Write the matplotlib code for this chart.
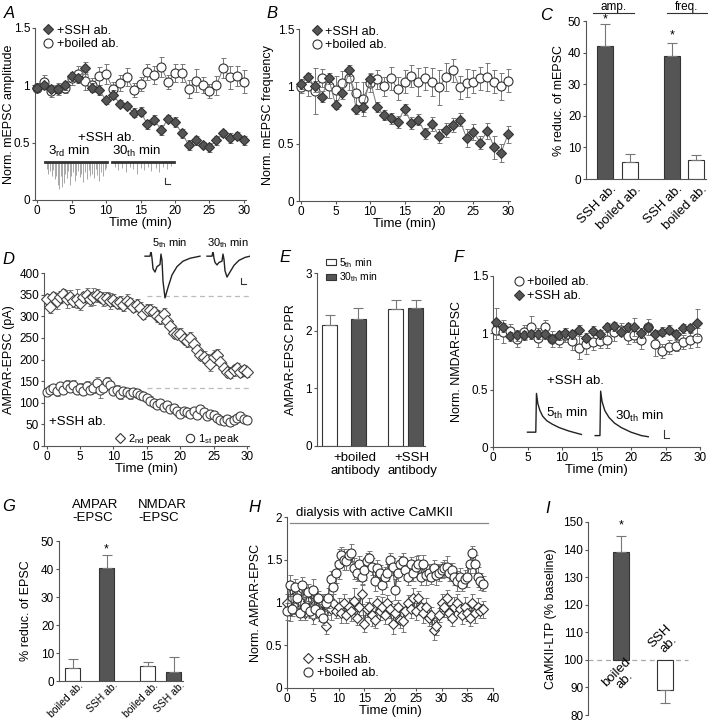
import numpy as np
import matplotlib
matplotlib.use('Agg')
from matplotlib import pyplot as plt
from matplotlib.lines import Line2D
import matplotlib.transforms as mtransforms

plt.rcParams['font.family'] = ['Liberation Sans', 'DejaVu Sans']
plt.rcParams['mathtext.fontset'] = 'custom'
plt.rcParams['mathtext.rm'] = 'Liberation Sans'
plt.rcParams['mathtext.it'] = 'Liberation Sans:italic'
plt.rcParams['font.size'] = 9.5

W, H = 720, 722
dark = '#555555'
edge = '#333333'
ecol = '#777777'
spine_col = '#555555'

# ---- panel A: mEPSC amplitude
t_a = np.arange(31)
ssh_amp = [0.98, 1.00, 0.97, 0.97, 1.00, 1.08, 1.06, 1.15, 0.98, 0.96, 0.87, 0.92, 0.84, 0.82, 0.76, 0.77,
           0.66, 0.70, 0.61, 0.71, 0.68, 0.58, 0.48, 0.52, 0.48, 0.46, 0.52, 0.58, 0.54, 0.56, 0.52]
ssh_amp_err = [0.03, 0.03, 0.03, 0.03, 0.04, 0.04, 0.04, 0.05, 0.04, 0.04, 0.03, 0.04, 0.03, 0.03, 0.04, 0.04,
               0.04, 0.04, 0.04, 0.03, 0.04, 0.04, 0.04, 0.04, 0.03, 0.04, 0.04, 0.03, 0.04, 0.03, 0.04]
boiled_amp = [0.98, 1.03, 0.95, 0.97, 0.98, 1.06, 1.10, 1.04, 1.00, 1.08, 1.10, 0.97, 1.02, 1.07, 0.96, 1.01,
              1.12, 1.09, 1.16, 1.03, 1.11, 1.11, 0.97, 1.04, 1.00, 0.95, 1.00, 1.15, 1.07, 1.08, 1.03]
boiled_amp_err = [0.04, 0.06, 0.05, 0.05, 0.05, 0.06, 0.07, 0.08, 0.06, 0.08, 0.09, 0.06, 0.07, 0.08, 0.06, 0.06,
                  0.07, 0.08, 0.09, 0.06, 0.08, 0.08, 0.08, 0.10, 0.07, 0.06, 0.08, 0.09, 0.10, 0.09, 0.10]
# example mEPSC traces (position along trace 0-1, event depth)
mini3_pos = [0.02, 0.05, 0.07, 0.1, 0.12, 0.15, 0.17, 0.2, 0.22, 0.25, 0.27, 0.3, 0.32, 0.35, 0.37, 0.4, 0.42,
             0.45, 0.47, 0.5, 0.53, 0.56, 0.58, 0.61, 0.64, 0.67, 0.7, 0.72, 0.75, 0.78, 0.81, 0.84, 0.87,
             0.9, 0.93, 0.96, 0.98]
mini3_amp = [0.06, 0.1, 0.08, 0.12, 0.07, 0.15, 0.12, 0.2, 0.23, 0.12, 0.22, 0.18, 0.1, 0.14, 0.08, 0.2, 0.12,
             0.09, 0.16, 0.11, 0.08, 0.13, 0.1, 0.17, 0.09, 0.15, 0.07, 0.12, 0.1, 0.14, 0.06, 0.11, 0.16,
             0.09, 0.12, 0.07, 0.05]
mini30_pos = [0.04, 0.1, 0.15, 0.22, 0.28, 0.33, 0.4, 0.46, 0.52, 0.58, 0.63, 0.7, 0.76, 0.82, 0.88, 0.94]
mini30_amp = [0.04, 0.07, 0.05, 0.09, 0.04, 0.06, 0.1, 0.05, 0.07, 0.04, 0.08, 0.05, 0.09, 0.04, 0.06, 0.03]

# ---- panel B: mEPSC frequency
ssh_freq = [1.02, 1.08, 1.00, 0.91, 1.07, 0.84, 0.94, 1.14, 0.80, 0.82, 1.06, 0.82, 0.75, 0.72, 0.69, 0.80,
            0.68, 0.71, 0.59, 0.67, 0.57, 0.62, 0.66, 0.71, 0.55, 0.60, 0.51, 0.61, 0.47, 0.42, 0.58]
ssh_freq_err = [0.04, 0.04, 0.05, 0.05, 0.05, 0.04, 0.05, 0.05, 0.04, 0.04, 0.06, 0.04, 0.04, 0.05, 0.05, 0.05,
                0.05, 0.05, 0.05, 0.06, 0.06, 0.06, 0.06, 0.06, 0.08, 0.07, 0.06, 0.07, 0.10, 0.08, 0.07]
boiled_freq = [0.99, 1.00, 0.96, 1.07, 1.00, 0.97, 1.03, 1.07, 0.94, 0.89, 1.03, 1.06, 1.00, 1.07, 0.98, 1.04,
               1.09, 1.04, 1.07, 1.04, 0.99, 1.08, 1.14, 0.99, 1.03, 1.04, 1.07, 1.08, 1.04, 1.00, 1.05]
boiled_freq_err = [0.05, 0.08, 0.20, 0.08, 0.10, 0.12, 0.10, 0.10, 0.10, 0.15, 0.08, 0.08, 0.08, 0.10, 0.10, 0.10,
                   0.10, 0.12, 0.10, 0.12, 0.15, 0.12, 0.10, 0.10, 0.12, 0.10, 0.10, 0.12, 0.10, 0.12, 0.10]

# ---- panel C
c_labels = ['SSH ab.', 'boiled ab.', 'SSH ab.', 'boiled ab.']
c_vals = [42, 5.5, 39, 6]
c_err = [7, 2.3, 4, 1.5]

# ---- panel D: AMPAR-EPSC paired pulse
t_d = np.arange(61) * 0.5
peak2 = [340, 322, 345, 335, 345, 352, 340, 345, 335, 340, 330, 345, 348, 340, 345, 348, 345, 340, 342, 335,
         338, 330, 332, 325, 335, 330, 322, 325, 318, 305, 315, 315, 310, 300, 295, 305, 290, 278, 262, 258,
         260, 248, 242, 250, 235, 222, 210, 205, 200, 190, 205, 210, 195, 180, 170, 168, 175, 180, 170, 175, 170]
peak2_err = [12, 15, 10, 18, 14, 12, 20, 16, 14, 22, 15, 12, 18, 16, 20, 14, 12, 16, 15, 18,
             14, 12, 15, 14, 16, 13, 12, 14, 15, 12, 14, 13, 12, 14, 12, 13, 12, 10, 12, 11,
             12, 10, 12, 14, 11, 12, 10, 14, 12, 16, 18, 15, 14, 12, 10, 11, 12, 13, 10, 12, 11]
peak1 = [125, 130, 135, 128, 138, 130, 142, 135, 140, 130, 135, 128, 138, 130, 135, 145, 130, 135, 148, 140,
         128, 130, 120, 128, 125, 120, 125, 122, 118, 115, 110, 105, 100, 95, 100, 90, 95, 85, 88, 80,
         75, 82, 78, 75, 80, 72, 85, 78, 70, 75, 72, 65, 60, 58, 62, 55, 60, 65, 70, 62, 60]
peak1_err = [8, 10, 9, 12, 10, 9, 11, 10, 12, 9, 10, 11, 12, 10, 12, 14, 20, 11, 12, 10,
             9, 10, 12, 9, 10, 11, 9, 10, 9, 8, 9, 10, 9, 8, 9, 8, 9, 8, 9, 10,
             8, 9, 10, 9, 8, 9, 10, 9, 8, 9, 10, 8, 9, 8, 9, 8, 9, 10, 9, 8, 9]
base2, base1 = 347, 135
# example EPSC traces (inset pixels, normalized current)
epsc5_x = [2, 7, 8, 9, 10, 12, 14, 17, 18, 19, 20, 22, 25, 29, 34, 40, 47, 57]
epsc5_y = [0, 0, 0.12, -0.05, -0.3, -0.38, -0.25, -0.2, 0.05, -0.1, -0.6, -1.0, -0.75, -0.45, -0.25, -0.12, -0.05, 0]
epsc30_x = [64, 69, 70, 71, 72, 74, 76, 79, 80, 81, 82, 84, 87, 91, 96, 102, 107]
epsc30_y = [0, 0, 0.12, -0.05, -0.15, -0.21, -0.15, -0.12, 0.05, -0.08, -0.35, -0.5, -0.38, -0.22, -0.1, -0.03, 0]

# ---- panel E: PPR
e_groups = ['+boiled\nantibody', '+SSH\nantibody']
ppr_5 = [2.1, 2.38]
ppr_5_err = [0.17, 0.16]
ppr_30 = [2.2, 2.39]
ppr_30_err = [0.2, 0.15]

# ---- panel F: NMDAR-EPSC
t_f = np.arange(30) + 0.5
boiled_nmda = [1.03, 1.01, 1.02, 0.95, 1.01, 1.05, 0.96, 1.05, 0.95, 0.94, 0.98, 0.93, 0.87, 0.90, 0.92,
               0.93, 0.94, 1.01, 1.03, 0.97, 0.98, 0.94, 1.05, 0.90, 0.84, 0.88, 0.89, 0.92, 0.94, 0.96]
boiled_nmda_err = [0.08, 0.1, 0.06, 0.07, 0.06, 0.1, 0.08, 0.06, 0.07, 0.06, 0.06, 0.08, 0.1, 0.08, 0.07,
                   0.06, 0.07, 0.08, 0.06, 0.07, 0.06, 0.08, 0.07, 0.1, 0.06, 0.06, 0.05, 0.06, 0.07, 0.08]
ssh_nmda = [1.10, 1.05, 0.97, 0.98, 0.98, 0.99, 0.99, 0.99, 0.95, 0.98, 1.00, 0.99, 1.03, 0.96, 1.02,
            0.99, 1.05, 1.06, 1.01, 1.05, 1.05, 1.00, 1.05, 0.99, 1.01, 1.03, 0.99, 1.04, 1.04, 1.09]
ssh_nmda_err = [0.12, 0.04, 0.04, 0.05, 0.04, 0.04, 0.04, 0.04, 0.04, 0.04, 0.04, 0.04, 0.04, 0.04, 0.04,
                0.04, 0.04, 0.04, 0.04, 0.04, 0.08, 0.04, 0.04, 0.04, 0.04, 0.04, 0.04, 0.04, 0.04, 0.12]
nmda5_x = [5, 6.2, 6.3, 6.5, 6.8, 7.2, 7.8, 8.6, 9.6, 11, 12.8]
nmda5_y = [0.13, 0.13, 0.47, 0.38, 0.32, 0.27, 0.23, 0.2, 0.17, 0.14, 0.11]
nmda30_x = [14.8, 15.5, 15.6, 15.8, 16.2, 16.8, 17.6, 18.6, 20, 21.5, 22.5]
nmda30_y = [0.1, 0.1, 0.49, 0.4, 0.32, 0.26, 0.21, 0.17, 0.13, 0.1, 0.09]

# ---- panel G
g_labels = ['boiled ab.', 'SSH ab.', 'boiled ab.', 'SSH ab.']
g_vals = [4.5, 40.5, 5.3, 3.2]
g_err = [3.5, 4.5, 1.5, 5.3]

# ---- panel H: CaMKII dialysis
t_h = np.arange(77) * 0.5
boiled_h = [0.90, 1.20, 0.92, 1.18, 1.05, 0.88, 1.20, 0.95, 1.12, 0.90, 1.15, 0.92, 1.05, 0.88, 0.82, 1.00,
            1.05, 1.27, 1.18, 1.35, 1.45, 1.55, 1.50, 1.48, 1.55, 1.58, 1.40, 1.35, 1.45, 1.30, 1.38, 1.48,
            1.52, 1.42, 1.25, 1.40, 1.35, 1.20, 1.30, 1.35, 1.50, 1.42, 1.15, 1.35, 1.45, 1.48, 1.38, 1.30,
            1.45, 1.35, 1.42, 1.45, 1.30, 1.45, 1.32, 1.35, 1.30, 1.40, 1.32, 1.35, 1.38, 1.40, 1.42, 1.35,
            1.38, 1.30, 1.25, 1.30, 1.22, 1.28, 1.30, 1.45, 1.58, 1.45, 1.30, 1.25, 1.22]
boiled_h_err = [0.1, 0.12, 0.08, 0.1, 0.12, 0.09, 0.1, 0.11, 0.1, 0.08, 0.12, 0.1, 0.09, 0.1, 0.08, 0.1,
                0.12, 0.1, 0.15, 0.12, 0.18, 0.1, 0.12, 0.1, 0.08, 0.1, 0.12, 0.1, 0.09, 0.1, 0.12, 0.1,
                0.08, 0.1, 0.12, 0.1, 0.09, 0.1, 0.12, 0.1, 0.08, 0.1, 0.12, 0.1, 0.09, 0.1, 0.12, 0.1,
                0.08, 0.1, 0.12, 0.1, 0.09, 0.1, 0.12, 0.1, 0.08, 0.1, 0.12, 0.1, 0.09, 0.1, 0.12, 0.1,
                0.08, 0.1, 0.12, 0.1, 0.09, 0.1, 0.12, 0.1, 0.08, 0.1, 0.12, 0.1, 0.09]
ssh_h = [1.00, 0.90, 1.05, 0.95, 1.10, 0.92, 1.00, 0.88, 1.02, 0.95, 0.85, 1.08, 0.95, 0.90, 1.00, 0.72,
         0.95, 0.92, 1.00, 0.90, 0.95, 0.88, 1.00, 0.85, 0.95, 0.90, 1.02, 0.82, 0.95, 1.10, 0.75, 0.92,
         0.95, 0.85, 0.80, 1.00, 0.90, 0.95, 0.85, 1.00, 0.92, 0.75, 0.88, 0.95, 0.80, 0.78, 0.90, 1.00,
         0.92, 1.05, 0.90, 1.05, 0.95, 0.88, 0.95, 0.82, 0.85, 0.68, 0.72, 0.85, 1.00, 0.95, 1.05, 0.88,
         0.82, 0.95, 1.00, 0.92, 0.85, 0.95, 0.88, 0.82, 1.00, 0.88, 0.95, 0.90, 0.92]
ssh_h_err = [0.1, 0.12, 0.1, 0.08, 0.1, 0.12, 0.1, 0.09, 0.1, 0.12, 0.1, 0.08, 0.1, 0.12, 0.1, 0.09,
             0.1, 0.12, 0.1, 0.08, 0.1, 0.12, 0.1, 0.09, 0.1, 0.12, 0.15, 0.08, 0.1, 0.12, 0.1, 0.09,
             0.1, 0.12, 0.1, 0.08, 0.1, 0.12, 0.1, 0.09, 0.1, 0.12, 0.1, 0.08, 0.1, 0.12, 0.1, 0.09,
             0.1, 0.12, 0.1, 0.08, 0.1, 0.12, 0.1, 0.09, 0.1, 0.12, 0.1, 0.08, 0.1, 0.12, 0.1, 0.09,
             0.1, 0.12, 0.1, 0.08, 0.1, 0.12, 0.1, 0.09, 0.1, 0.12, 0.1, 0.08, 0.1]

# ---- panel I
i_vals = [139, 89]
i_err = [6, 4.5]


fig = plt.figure(figsize=(W / 100, H / 100), dpi=100)


def px_axes(x0, y0, x1, y1):
    return fig.add_axes([x0 / W, 1 - y1 / H, (x1 - x0) / W, (y1 - y0) / H])


def style(ax):
    for s in ['top', 'right']:
        ax.spines[s].set_visible(False)
    for s in ['left', 'bottom']:
        ax.spines[s].set_color(spine_col)
        ax.spines[s].set_linewidth(0.8)
    ax.tick_params(direction='out', length=2.5, width=0.8, color=spine_col, labelsize=8.5, pad=1)


def nolead(v, pos=None):
    return ('%g' % v)


def ylab(ax, s, xpix):
    # y label centred on a given figure pixel column
    ax.set_ylabel(s, fontsize=9, va='center')
    x0 = ax.get_position().x0 * W
    ax.yaxis.set_label_coords((xpix - x0) / (ax.get_position().width * W), 0.5)


def letter(x, y, s):
    fig.text(x / W, 1 - y / H, s, fontsize=12, style='italic', va='top', ha='left')


def series(ax, x, y, err, marker, face, ms=6, line=True, lcol='#777777', mec=edge, z=3):
    ax.errorbar(x, y, yerr=err, fmt='none', ecolor=ecol, elinewidth=0.7, capsize=1.8, capthick=0.7,
                zorder=z - 1, clip_on=False)
    ax.plot(x, y, linestyle='-' if line else 'none', color=lcol, lw=0.7, marker=marker, ms=ms,
            mfc=face, mec=mec, mew=0.8, zorder=z, clip_on=False)


def leg(ax, items, loc, anchor, fs=9, ncol=1):
    handles = [Line2D([], [], linestyle='none', marker=m, ms=ms, mfc=f, mec=edge, mew=0.8) for m, f, ms, _ in items]
    ax.legend(handles, [t for *_, t in items], loc=loc, bbox_to_anchor=anchor, frameon=False, fontsize=fs,
              handlelength=0.8, handletextpad=0.3, labelspacing=0.15, borderpad=0, borderaxespad=0,
              columnspacing=1.2, ncol=ncol)


def shift_xlabels(ax, dx, dy=0):
    off = mtransforms.ScaledTranslation(dx / 100, dy / 100, fig.dpi_scale_trans)
    for lab in ax.get_xticklabels():
        lab.set_transform(lab.get_transform() + off)


# ================= A
ax = px_axes(35, 28, 246, 200)
style(ax)
series(ax, t_a, boiled_amp, boiled_amp_err, 'o', 'white', ms=6.5, z=3)
series(ax, t_a, ssh_amp, ssh_amp_err, 'D', dark, ms=5.5, z=4)
ax.set_xlim(-0.3, 30.3)
ax.set_ylim(0, 1.5)
ax.set_xticks([0, 5, 10, 15, 20, 25, 30])
ax.set_yticks([0, 0.5, 1, 1.5])
ax.yaxis.set_major_formatter(nolead)
ax.set_xlabel('Time (min)', labelpad=0)
ylab(ax, 'Norm. mEPSC amplitude', 9)
leg(ax, [('D', dark, 5.5, '+SSH ab.'), ('o', 'white', 6.5, '+boiled ab.')], 'upper left', (0.04, 1.02))
ax.text(10.1, 0.54, '+SSH ab.', ha='center', va='center', fontsize=9.5)
ax.text(4.6, 0.42, r'3$_{\rm rd}$ min', ha='center', va='center', fontsize=9.5)
ax.text(14.5, 0.42, r'30$_{\rm th}$ min', ha='center', va='center', fontsize=9.5)
for x0, x1, pos, amp in [(1.2, 10.2, mini3_pos, mini3_amp), (10.9, 19.9, mini30_pos, mini30_amp)]:
    xs = [x0 + p * (x1 - x0) for p in pos]
    ax.vlines(xs, [0.33 - a for a in amp], 0.33, color='#999999', lw=0.6)
    ax.plot([x0, x1], [0.33, 0.33], color='#333333', lw=2)
ax.plot([18.6, 18.6, 19.3], [0.19, 0.14, 0.14], color='#333333', lw=0.8)

# ================= B
ax = px_axes(299, 29, 510, 201)
style(ax)
series(ax, t_a, boiled_freq, boiled_freq_err, 'o', 'white', ms=6.5, z=3)
series(ax, t_a, ssh_freq, ssh_freq_err, 'D', dark, ms=5.5, z=4)
ax.set_xlim(-0.3, 30.3)
ax.set_ylim(0, 1.5)
ax.set_xticks([0, 5, 10, 15, 20, 25, 30])
ax.set_yticks([0, 0.5, 1, 1.5])
ax.yaxis.set_major_formatter(nolead)
ax.set_xlabel('Time (min)', labelpad=0)
ylab(ax, 'Norm. mEPSC frequency', 268)
leg(ax, [('D', dark, 5.5, '+SSH ab.'), ('o', 'white', 6.5, '+boiled ab.')], 'upper left', (0.06, 1.02))

# ================= C
ax = px_axes(586, 21, 706, 179)
style(ax)
cx = [0.78, 1.78, 3.5, 4.5]
ax.bar(cx, c_vals, width=0.65, color=[dark, 'white', dark, 'white'], edgecolor=edge, linewidth=0.8)
ax.errorbar(cx, c_vals, yerr=[[0] * 4, c_err], fmt='none', ecolor=ecol, elinewidth=0.8, capsize=3.5, capthick=0.8)
ax.set_xlim(0, 4.9)
ax.set_ylim(0, 50)
ax.set_yticks([0, 10, 20, 30, 40, 50])
ax.set_xticks(cx)
ax.set_xticklabels(c_labels, rotation=45, ha='right', rotation_mode='anchor', fontsize=9.5)
ax.tick_params(axis='x', length=0, pad=3)
shift_xlabels(ax, 5)
ylab(ax, '% reduc. of mEPSC', 559)
ax.text(cx[0], 50.5, '*', ha='center', va='center', fontsize=9)
ax.text(cx[2], 45.5, '*', ha='center', va='center', fontsize=9)
tr = mtransforms.blended_transform_factory(ax.transData, ax.transAxes)
for x0, x1, s in [(0.29, 1.96, 'amp.'), (3.3, 4.94, 'freq.')]:
    ax.plot([x0, x1], [1.05, 1.05], color='#333333', lw=0.8, transform=tr, clip_on=False)
    ax.text((x0 + x1) / 2, 1.053, s, ha='center', va='bottom', transform=tr, fontsize=8.5)

# ================= D
ax = px_axes(44, 273, 249, 446)
style(ax)
ax.plot([15, 30.3], [base2, base2], color='#bbbbbb', lw=0.9, dashes=(4, 3), zorder=1)
ax.plot([15, 30.3], [base1, base1], color='#bbbbbb', lw=0.9, dashes=(4, 3), zorder=1)
series(ax, t_d, peak2, peak2_err, 'D', 'white', ms=6, line=False, mec='#444444')
series(ax, t_d, peak1, peak1_err, 'o', 'white', ms=6.5, line=False, mec='#444444')
ax.set_xlim(-0.4, 30.3)
ax.set_ylim(0, 400)
ax.set_xticks([0, 5, 10, 15, 20, 25, 30])
ax.set_yticks(range(0, 401, 50))
ax.set_xlabel('Time (min)', labelpad=0)
ylab(ax, 'AMPAR-EPSC (pA)', 9)
ax.text(4.6, 55, '+SSH ab.', ha='center', va='center', fontsize=9.5)
leg(ax, [('D', 'white', 5.5, r'2$_{\rm nd}$ peak'), ('o', 'white', 6, r'1$_{\rm st}$ peak')],
    'lower left', (0.35, 0.0), fs=8, ncol=2)
ins = px_axes(143, 252, 250, 300)
ins.axis('off')
ins.set_xlim(0, 107)
ins.set_ylim(-1.05, 0.1)
ins.plot(epsc5_x, epsc5_y, color='#222222', lw=1)
ins.plot(epsc30_x, epsc30_y, color='#222222', lw=1)
ins.plot([98, 98, 103], [-0.52, -0.67, -0.67], color='#333333', lw=0.8)
fig.text(170 / W, 1 - 243 / H, r'5$_{\rm th}$ min', ha='center', va='center', fontsize=8)
fig.text(228 / W, 1 - 243 / H, r'30$_{\rm th}$ min', ha='center', va='center', fontsize=8)

# ================= E
ax = px_axes(317, 273, 425, 446)
style(ax)
ex5 = [12.8, 78.8]
ex30 = [41.2, 98.5]
ax.bar(ex5, ppr_5, width=15, color='white', edgecolor=edge, linewidth=0.8, label=r'5$_{\rm th}$ min')
ax.bar(ex30, ppr_30, width=15, color=dark, edgecolor=edge, linewidth=0.8, label=r'30$_{\rm th}$ min')
ax.errorbar(ex5, ppr_5, yerr=[[0, 0], ppr_5_err], fmt='none', ecolor=ecol, elinewidth=0.8, capsize=3.5, capthick=0.8)
ax.errorbar(ex30, ppr_30, yerr=[[0, 0], ppr_30_err], fmt='none', ecolor=ecol, elinewidth=0.8, capsize=3.5, capthick=0.8)
ax.set_xlim(0, 108)
ax.set_ylim(0, 3)
ax.set_yticks([0, 1, 2, 3])
ax.set_xticks([])
ylab(ax, 'AMPAR-EPSC PPR', 291)
for xc, s in zip([38, 95], e_groups):
    ax.text(xc, -0.1, s, ha='center', va='top', fontsize=9.5, linespacing=1.1)
ax.legend(loc='upper left', bbox_to_anchor=(0.08, 1.1), frameon=False, fontsize=7.5, handlelength=1.0,
          handleheight=0.6, handletextpad=0.3, labelspacing=0.1, borderpad=0, borderaxespad=0)

# ================= F
ax = px_axes(493, 276, 700, 447)
style(ax)
series(ax, t_f, boiled_nmda, boiled_nmda_err, 'o', 'white', ms=6.5, line=False, z=3)
series(ax, t_f, ssh_nmda, ssh_nmda_err, 'D', dark, ms=5.5, line=False, z=4)
ax.set_xlim(0, 30)
ax.set_ylim(0, 1.5)
ax.set_xticks([0, 5, 10, 15, 20, 25, 30])
ax.set_yticks([0, 0.5, 1, 1.5])
ax.yaxis.set_major_formatter(nolead)
ax.set_xlabel('Time (min)', labelpad=0)
ylab(ax, 'Norm. NMDAR-EPSC', 457)
leg(ax, [('o', 'white', 6.5, '+boiled ab.'), ('D', dark, 5.5, '+SSH ab.')], 'upper left', (0.1, 1.0))
ax.plot(nmda5_x, nmda5_y, color='#222222', lw=1)
ax.plot(nmda30_x, nmda30_y, color='#222222', lw=1)
ax.plot([24.8, 24.8, 25.5], [0.15, 0.08, 0.08], color='#333333', lw=0.8)
ax.text(12, 0.58, '+SSH ab.', ha='center', va='center', fontsize=9.5)
ax.text(10.7, 0.29, r'5$_{\rm th}$ min', ha='center', va='center', fontsize=9.5)
ax.text(21.3, 0.27, r'30$_{\rm th}$ min', ha='center', va='center', fontsize=9.5)

# ================= G
ax = px_axes(59, 541, 183, 681)
style(ax)
gx = [13.5, 47.5, 88.5, 114.5]
ax.bar(gx, g_vals, width=15, color=['white', dark, 'white', dark], edgecolor=edge, linewidth=0.8)
ax.errorbar(gx, g_vals, yerr=[[0] * 4, g_err], fmt='none', ecolor=ecol, elinewidth=0.8, capsize=3.5, capthick=0.8)
ax.set_xlim(0, 124)
ax.set_ylim(0, 50)
ax.set_yticks([0, 10, 20, 30, 40, 50])
ax.set_xticks(gx)
ax.set_xticklabels(g_labels, rotation=45, ha='right', rotation_mode='anchor', fontsize=7.5)
ax.tick_params(axis='x', length=0, pad=1)
shift_xlabels(ax, 6, 2)
ylab(ax, '% reduc. of EPSC', 26)
ax.text(gx[1], 47, '*', ha='center', va='center', fontsize=9)
fig.text(72 / W, 1 - 499 / H, 'AMPAR\n-EPSC', ha='left', va='top', fontsize=9.5, linespacing=1.15)
fig.text(138 / W, 1 - 499 / H, 'NMDAR\n-EPSC', ha='left', va='top', fontsize=9.5, linespacing=1.15)

# ================= H
ax = px_axes(287, 517, 493, 688)
style(ax)
series(ax, t_h, ssh_h, ssh_h_err, 'D', 'white', ms=5.5, lcol='#444444', z=3)
series(ax, t_h, boiled_h, boiled_h_err, 'o', 'white', ms=6.5, lcol='#444444', z=4)
ax.set_xlim(0, 40)
ax.set_ylim(0, 2)
ax.set_xticks([0, 5, 10, 15, 20, 25, 30, 35, 40])
ax.set_yticks([0, 0.5, 1, 1.5, 2])
ax.yaxis.set_major_formatter(nolead)
ax.set_xlabel('Time (min)', labelpad=0)
ylab(ax, 'Norm. AMPAR-EPSC', 256)
ax.plot([0.5, 39], [1.93, 1.93], color='#888888', lw=0.9, clip_on=False)
ax.text(17, 2.05, 'dialysis with active CaMKII', ha='center', va='center', fontsize=9.5)
leg(ax, [('D', 'white', 5.5, '+SSH ab.'), ('o', 'white', 6.5, '+boiled ab.')], 'lower left', (0.08, 0.05))

# ================= I
ax = px_axes(588, 522, 688, 715)
style(ax)
ax.spines['bottom'].set_visible(False)
ix = [33, 76.5]
ax.plot([0, 100], [100, 100], color='#aaaaaa', lw=0.9, dashes=(4, 3), zorder=1, clip_on=False)
ax.bar(ix, [v - 100 for v in i_vals], bottom=100, width=16, color=[dark, 'white'], edgecolor=edge, linewidth=0.8,
       zorder=2)
ax.errorbar(ix, i_vals, yerr=[[0, i_err[1]], [i_err[0], 0]], fmt='none', ecolor=ecol, elinewidth=0.8,
            capsize=3.5, capthick=0.8)
ax.set_xlim(0, 100)
ax.set_ylim(80, 150)
ax.set_xticks([])
ax.set_yticks(range(80, 151, 10))
ylab(ax, 'CaMKII-LTP (% baseline)', 551)
ax.text(ix[0], 148.9, '*', ha='center', va='center', fontsize=9)
ax.text(ix[0], 94, 'boiled\nab.', ha='center', va='center', rotation=45, fontsize=9.5, linespacing=1.0)
ax.text(ix[1], 107, 'SSH\nab.', ha='center', va='center', rotation=45, fontsize=9.5, linespacing=1.0)

letter(4, 6, 'A')
letter(266, 6, 'B')
letter(540, 8, 'C')
letter(2, 252, 'D')
letter(279, 250, 'E')
letter(453, 250, 'F')
letter(2, 499, 'G')
letter(248, 500, 'H')
letter(545, 501, 'I')

fig.savefig('out.png', dpi=100)
